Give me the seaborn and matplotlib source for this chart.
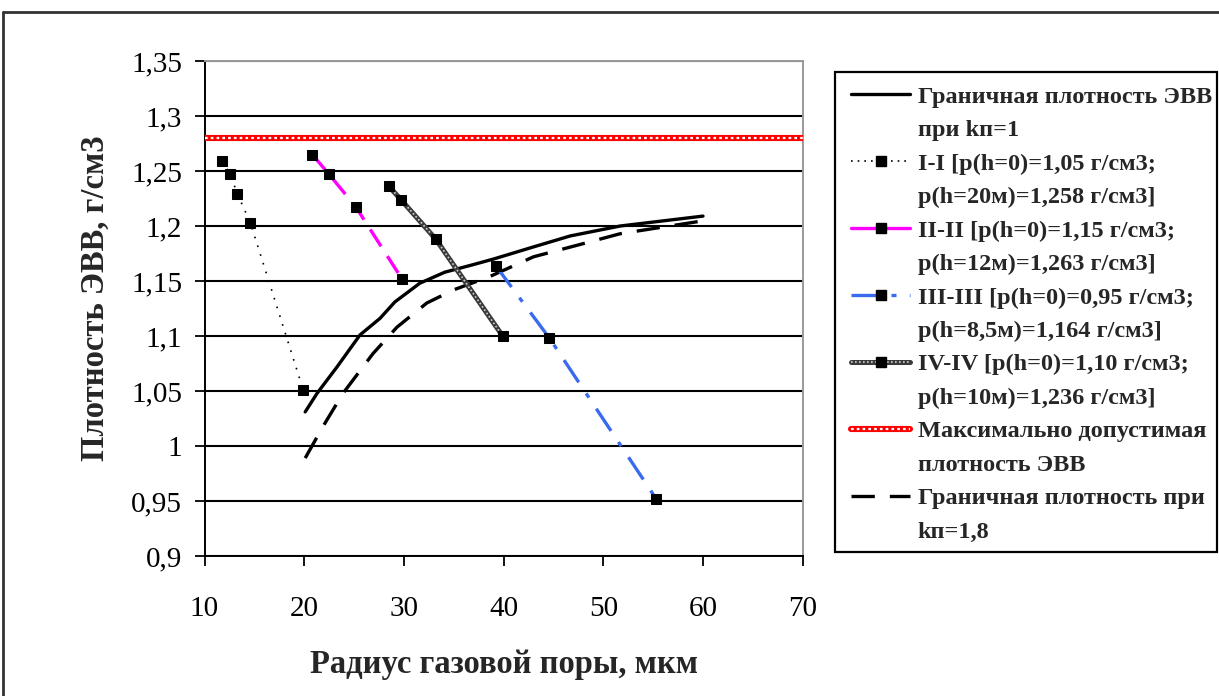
import matplotlib
matplotlib.use("Agg")
import matplotlib.pyplot as plt
from matplotlib.lines import Line2D
from matplotlib.patches import Rectangle
from matplotlib.legend_handler import HandlerTuple
import seaborn as sns

# ---------------- data ----------------
x_ticks = [10, 20, 30, 40, 50, 60, 70]
y_ticks = [0.9, 0.95, 1.0, 1.05, 1.1, 1.15, 1.2, 1.25, 1.3, 1.35]
y_tick_labels = ["0,9", "0,95", "1", "1,05", "1,1", "1,15", "1,2", "1,25", "1,3", "1,35"]

kp1_x = [20.1, 21.3, 23.3, 25.6, 27.6, 29.1, 31.6, 34.1, 37.0, 39.0, 43.0, 46.7, 51.7, 60.0]
kp1_y = [1.031, 1.048, 1.072, 1.101, 1.116, 1.131, 1.148, 1.158, 1.165, 1.170, 1.181, 1.191, 1.200, 1.209]

kp18_x = [20.1, 21.9, 23.9, 26.9, 29.3, 32.3, 35.0, 38.6, 43.0, 48.0, 51.7, 59.5]
kp18_y = [0.989, 1.018, 1.048, 1.084, 1.108, 1.130, 1.142, 1.154, 1.172, 1.184, 1.193, 1.204]

s1_x = [11.8, 12.6, 13.3, 14.6, 19.9]
s1_y = [1.259, 1.247, 1.229, 1.203, 1.051]

s2_x = [20.8, 22.5, 25.2, 29.8]
s2_y = [1.265, 1.247, 1.217, 1.152]

s3_x = [39.2, 44.6, 55.3]
s3_y = [1.164, 1.098, 0.952]

s4_x = [28.5, 29.7, 33.2, 39.9]
s4_y = [1.236, 1.224, 1.188, 1.100]

max_x = [10, 70]
max_y = [1.28, 1.28]

labels = [
    "Граничная плотность ЭВВ", "при kп=1",
    "I-I [p(h=0)=1,05 г/см3;", "p(h=20м)=1,258 г/см3]",
    "II-II [p(h=0)=1,15 г/см3;", "p(h=12м)=1,263 г/см3]",
    "III-III [p(h=0)=0,95 г/см3;", "p(h=8,5м)=1,164 г/см3]",
    "IV-IV [p(h=0)=1,10 г/см3;", "p(h=10м)=1,236 г/см3]",
    "Максимально допустимая", "плотность ЭВВ",
    "Граничная плотность при", "kп=1,8",
]
x_label = "Радиус газовой поры, мкм"
y_label = "Плотность ЭВВ, г/см3"

# ---------------- style ----------------
sns.set_theme(style="white")
plt.rcParams["font.family"] = ["Liberation Serif", "DejaVu Serif"]

W, H = 1219, 696
fig = plt.figure(figsize=(W / 100, H / 100), dpi=100)
fig.patch.set_facecolor("white")

ax_l, ax_r, ax_t, ax_b = 204.5, 802.7, 61, 556
ax = fig.add_axes([ax_l / W, 1 - ax_b / H, (ax_r - ax_l) / W, (ax_b - ax_t) / H])
ax.set_facecolor("white")

MAGENTA = "#FF00FF"
BLUE = "#3A6BEF"
RED = "#FF0000"
msq = dict(marker="s", markersize=6.5, markerfacecolor="black", markeredgecolor="black")
red_chain = (0, (1.2, 1.4))
gray_chain = (0, (1, 1.4))

# max allowed density (red chain)
sns.lineplot(x=max_x, y=max_y, ax=ax, color=RED, linewidth=4.4, sort=False, zorder=3)
sns.lineplot(x=max_x, y=max_y, ax=ax, color="white", linewidth=1.6, sort=False,
             linestyle=red_chain, zorder=3.1)

# boundary kп=1 solid
sns.lineplot(x=kp1_x, y=kp1_y, ax=ax, color="black", linewidth=2.4, sort=False, zorder=4)
# boundary kп=1.8 dashed
sns.lineplot(x=kp18_x, y=kp18_y, ax=ax, color="black", linewidth=2.4, sort=False,
             linestyle=(0, (7, 4.5)), zorder=4)

# I-I dotted
sns.lineplot(x=s1_x, y=s1_y, ax=ax, color="black", linewidth=1.2, sort=False,
             linestyle=(0, (1, 4.5)), zorder=5, **msq)
# II-II magenta dashed
sns.lineplot(x=s2_x, y=s2_y, ax=ax, color=MAGENTA, linewidth=2.4, sort=False,
             linestyle=(0, (6, 3.5)), zorder=5, **msq)
# III-III blue dash-dot
sns.lineplot(x=s3_x, y=s3_y, ax=ax, color=BLUE, linewidth=2.4, sort=False,
             linestyle=(0, (8, 4, 1.5, 4)), zorder=5, **msq)
# IV-IV chain line
sns.lineplot(x=s4_x, y=s4_y, ax=ax, color="#3a3a3a", linewidth=3.6, sort=False, zorder=5)
sns.lineplot(x=s4_x, y=s4_y, ax=ax, color="#cfcfcf", linewidth=1.2, sort=False,
             linestyle=gray_chain, zorder=5.1)
sns.lineplot(x=s4_x, y=s4_y, ax=ax, color="none", linewidth=0, sort=False, zorder=5.2, **msq)

# axes
ax.set_xlim(10, 70)
ax.set_ylim(0.9, 1.35)
ax.set_xticks(x_ticks)
ax.set_xticklabels([str(v) for v in x_ticks])
ax.set_yticks(y_ticks)
ax.set_yticklabels(y_tick_labels)
ax.yaxis.grid(True, color="black", linewidth=1.5, zorder=1)
ax.xaxis.grid(False)
ax.set_axisbelow(True)
ax.tick_params(axis="both", which="major", direction="out", length=7, width=1.3,
               color="black", labelsize=21, labelcolor="black")
ax.tick_params(axis="x", pad=22)
ax.tick_params(axis="y", pad=9)
ax.tick_params(bottom=True, left=True)
for side in ["left", "bottom"]:
    ax.spines[side].set_color("black")
    ax.spines[side].set_linewidth(1.4)
for side in ["top", "right"]:
    ax.spines[side].set_color("#9a9a9a")
    ax.spines[side].set_linewidth(1.4)

fig.text((ax_l + ax_r) / 2 / W, 1 - 665 / H, x_label, ha="center", va="center",
         fontsize=23.5, fontweight="bold")
fig.text(95 / W, 1 - 298 / H, y_label, ha="center", va="center", rotation=90,
         fontsize=23.5, fontweight="bold")

# legend
blank = Line2D([], [], linestyle="none", marker=None)
h_kp1 = Line2D([], [], color="black", linewidth=2.4)
h_s1 = Line2D([], [], color="black", linewidth=1.2, linestyle=(0, (1, 3)), **msq)
h_s2 = Line2D([], [], color=MAGENTA, linewidth=2.4, **msq)
h_s3 = Line2D([], [], color=BLUE, linewidth=2.4, linestyle=(0, (8, 4, 1.5, 4)), **msq)
h_s4 = (Line2D([], [], color="#3a3a3a", linewidth=3.6),
        Line2D([], [], color="#cfcfcf", linewidth=1.2, linestyle=gray_chain),
        Line2D([], [], linestyle="none", **msq))
h_max = (Line2D([], [], color=RED, linewidth=4.4),
         Line2D([], [], color="white", linewidth=1.6, linestyle=red_chain))
h_kp18 = Line2D([], [], color="black", linewidth=2.4, linestyle=(0, (7, 4.5)))
handles = [h_kp1, blank, h_s1, blank, h_s2, blank, h_s3, blank, h_s4, blank,
           h_max, blank, h_kp18, blank]

# legend frame drawn separately
lg_l, lg_t, lg_r, lg_b = 835, 72, 1217, 552
fig.add_artist(Rectangle((lg_l / W, 1 - lg_b / H), (lg_r - lg_l) / W, (lg_b - lg_t) / H,
                         transform=fig.transFigure, facecolor="white", edgecolor="black",
                         linewidth=1.6, zorder=2))
leg = fig.legend(handles, labels, loc="upper left",
                 bbox_to_anchor=(840 / W, 1 - 75 / H),
                 frameon=False, prop=dict(family="Liberation Serif", weight="bold", size=17.5),
                 handlelength=2.45, handletextpad=0.3, labelspacing=0.47, borderpad=0.45,
                 borderaxespad=0, handler_map={tuple: HandlerTuple(ndivide=1, pad=0)})
leg.set_zorder(3)

# outer border
fig.add_artist(Line2D([3 / W, 1], [1 - 12 / H, 1 - 12 / H], color="#333333", linewidth=2,
                      transform=fig.transFigure))
fig.add_artist(Line2D([3 / W, 3 / W], [0, 1 - 12 / H], color="#333333", linewidth=2,
                      transform=fig.transFigure))

fig.savefig("out.png", dpi=100)
